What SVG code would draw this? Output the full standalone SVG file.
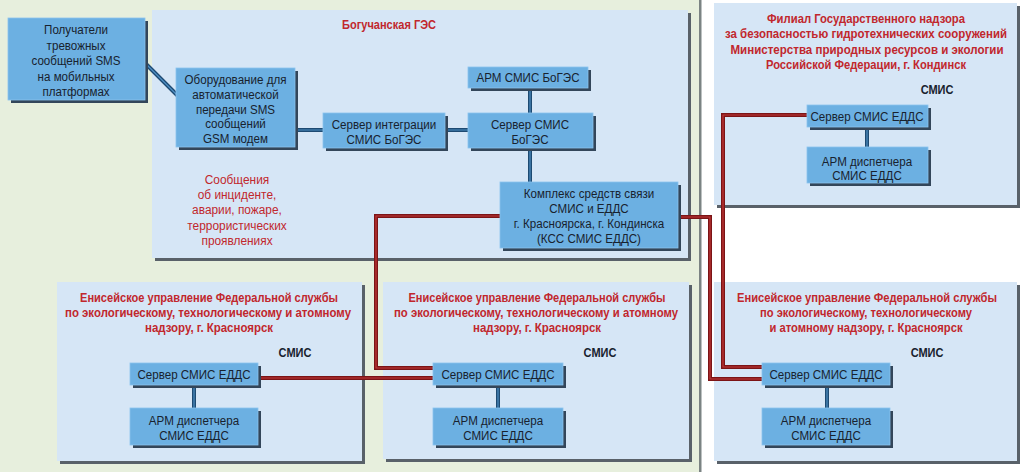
<svg xmlns="http://www.w3.org/2000/svg" width="1024" height="472" viewBox="0 0 1024 472">
<style>
.pshadow{fill:#596169}
.panel{fill:#d6e6f6}
.nshadow{fill:#33465a}
.node{fill:#6cb0e2;stroke:#8cc4ee;stroke-width:0.8}
.t{font-family:"Liberation Sans",Arial,sans-serif;font-size:13.5px;fill:#18222e;text-anchor:middle;transform-box:fill-box;transform-origin:center;transform:scaleX(0.86)}
.h{font-family:"Liberation Sans",Arial,sans-serif;font-size:12px;font-weight:bold;fill:#c1272d;text-anchor:middle}
.r{font-family:"Liberation Sans",Arial,sans-serif;font-size:13.5px;fill:#c1272d;text-anchor:middle;transform-box:fill-box;transform-origin:center;transform:scaleX(0.88)}
.s{font-family:"Liberation Sans",Arial,sans-serif;font-size:12.5px;font-weight:bold;fill:#18222e;text-anchor:middle;transform-box:fill-box;transform-origin:center;transform:scaleX(0.88)}
.bo{fill:none;stroke:#1d4a72;stroke-width:4}
.bi{fill:none;stroke:#4f8fc4;stroke-width:1.2}
.ro{fill:none;stroke:#7c1416;stroke-width:4}
.ri{fill:none;stroke:#c23a3a;stroke-width:1.2}
</style>
<rect x="0" y="0" width="1024" height="472" fill="#ffffff"/>
<rect x="0" y="0" width="700" height="472" fill="#e7efdd"/>
<rect x="699" y="0" width="2.5" height="472" fill="#7b8383"/>

<g id="panel-bogges">
<rect class="pshadow" x="155" y="13" width="536" height="248"/>
<rect class="panel" x="152" y="10" width="536" height="248"/>
<text class="h" x="389" y="29" textLength="94" lengthAdjust="spacingAndGlyphs">Богучанская ГЭС</text>
<text class="r" x="237" y="184.5">Сообщения</text>
<text class="r" x="237" y="199.5">об инциденте,</text>
<text class="r" x="237" y="214.5">аварии, пожаре,</text>
<text class="r" x="237" y="230">террористических</text>
<text class="r" x="237" y="245">проявлениях</text>
</g>
<g id="panel-filial">
<rect class="pshadow" x="717" y="6" width="303" height="202"/>
<rect class="panel" x="714" y="3" width="303" height="202"/>
<text class="h" x="866" y="22.5" textLength="198" lengthAdjust="spacingAndGlyphs">Филиал Государственного надзора</text>
<text class="h" x="866" y="38" textLength="282" lengthAdjust="spacingAndGlyphs">за безопасностью гидротехнических сооружений</text>
<text class="h" x="867" y="53.5" textLength="273" lengthAdjust="spacingAndGlyphs">Министерства природных ресурсов и экологии</text>
<text class="h" x="866" y="69" textLength="200" lengthAdjust="spacingAndGlyphs">Российской Федерации, г. Кондинск</text>
<text class="s" x="937" y="94">СМИС</text>
</g>
<g id="panel-bl">
<rect class="pshadow" x="60" y="285" width="305" height="179"/>
<rect class="panel" x="57" y="282" width="305" height="179"/>
<text class="h" x="209" y="301.5" textLength="258" lengthAdjust="spacingAndGlyphs">Енисейское управление Федеральной службы</text>
<text class="h" x="208" y="316.5" textLength="286" lengthAdjust="spacingAndGlyphs">по экологическому, технологическому и атомному</text>
<text class="h" x="209" y="331.5" textLength="128" lengthAdjust="spacingAndGlyphs">надзору, г. Красноярск</text>
<text class="s" x="295" y="357">СМИС</text>
</g>
<g id="panel-bm">
<rect class="pshadow" x="386" y="285" width="306" height="177"/>
<rect class="panel" x="383" y="282" width="306" height="177"/>
<text class="h" x="537" y="301.5" textLength="257" lengthAdjust="spacingAndGlyphs">Енисейское управление Федеральной службы</text>
<text class="h" x="536" y="316.5" textLength="284" lengthAdjust="spacingAndGlyphs">по экологическому, технологическому и атомному</text>
<text class="h" x="537" y="331.5" textLength="128" lengthAdjust="spacingAndGlyphs">надзору, г. Красноярск</text>
<text class="s" x="600" y="357">СМИС</text>
</g>
<g id="panel-br">
<rect class="pshadow" x="717" y="285" width="303" height="179"/>
<rect class="panel" x="714" y="282" width="303" height="179"/>
<text class="h" x="867" y="301.5" textLength="260" lengthAdjust="spacingAndGlyphs">Енисейское управление Федеральной службы</text>
<text class="h" x="866" y="316.5" textLength="212" lengthAdjust="spacingAndGlyphs">по экологическому, технологическому</text>
<text class="h" x="866" y="331.5" textLength="193" lengthAdjust="spacingAndGlyphs">и атомному надзору, г. Красноярск</text>
<text class="s" x="927" y="357">СМИС</text>
</g>

<g id="connectors">
<path class="bo" d="M145 63 L178 96 M295 130 H323 M445 130 H468 M530 88 V113 M530 148 V182 M867 127 V147 M194 385 V408 M498 385 V408 M827 386 V408"/>
<path class="bi" d="M145 63 L178 96 M295 130 H323 M445 130 H468 M530 88 V113 M530 148 V182 M867 127 V147 M194 385 V408 M498 385 V408 M827 386 V408"/>
<path class="ro" d="M500 216 H376 V368 H433 M258 378 H433 M678 217 H710 V379 H762 M807 115 H723 V367 H762"/>
<path class="ri" d="M500 216 H376 V368 H433 M258 378 H433 M678 217 H710 V379 H762 M807 115 H723 V367 H762"/>
</g>

<g id="n-recipients">
<rect class="nshadow" x="11" y="21" width="137" height="82"/>
<rect class="node" x="8" y="18" width="137" height="82"/>
<text class="t" x="76" y="34.5">Получатели</text>
<text class="t" x="76" y="50">тревожных</text>
<text class="t" x="76" y="65.5">сообщений SMS</text>
<text class="t" x="76" y="81">на мобильных</text>
<text class="t" x="76" y="96">платформах</text>
</g>
<g id="n-gsm">
<rect class="nshadow" x="179" y="71" width="119" height="79"/>
<rect class="node" x="176" y="68" width="119" height="79"/>
<text class="t" x="235.5" y="84.5">Оборудование для</text>
<text class="t" x="235.5" y="99.5">автоматической</text>
<text class="t" x="235.5" y="114.5">передачи SMS</text>
<text class="t" x="235.5" y="128.5">сообщений</text>
<text class="t" x="235.5" y="143">GSM модем</text>
</g>
<g id="n-integr">
<rect class="nshadow" x="326" y="116" width="122" height="35"/>
<rect class="node" x="323" y="113" width="122" height="35"/>
<text class="t" x="384" y="129">Сервер интеграции</text>
<text class="t" x="384" y="144">СМИС БоГЭС</text>
</g>
<g id="n-arm-bog">
<rect class="nshadow" x="471" y="70" width="120" height="21"/>
<rect class="node" x="468" y="67" width="120" height="21"/>
<text class="t" x="528" y="82.5">АРМ СМИС БоГЭС</text>
</g>
<g id="n-srv-bog">
<rect class="nshadow" x="471" y="116" width="125" height="35"/>
<rect class="node" x="468" y="113" width="125" height="35"/>
<text class="t" x="530" y="129">Сервер СМИС</text>
<text class="t" x="530" y="144">БоГЭС</text>
</g>
<g id="n-kss">
<rect class="nshadow" x="503" y="185" width="178" height="66"/>
<rect class="node" x="500" y="182" width="178" height="66"/>
<text class="t" x="589" y="198">Комплекс средств связи</text>
<text class="t" x="589" y="213">СМИС и ЕДДС</text>
<text class="t" x="589" y="228">г. Красноярска, г. Кондинска</text>
<text class="t" x="589" y="243">(КСС СМИС ЕДДС)</text>
</g>
<g id="n-srv-tr">
<rect class="nshadow" x="810" y="108" width="121" height="22"/>
<rect class="node" x="807" y="105" width="121" height="22"/>
<text class="t" x="867" y="121">Сервер СМИС ЕДДС</text>
</g>
<g id="n-arm-tr">
<rect class="nshadow" x="810" y="150" width="121" height="36"/>
<rect class="node" x="807" y="147" width="121" height="36"/>
<text class="t" x="867" y="166">АРМ диспетчера</text>
<text class="t" x="867" y="180">СМИС ЕДДС</text>
</g>
<g id="n-srv-bl">
<rect class="nshadow" x="133" y="366" width="128" height="22"/>
<rect class="node" x="130" y="363" width="128" height="22"/>
<text class="t" x="194" y="379">Сервер СМИС ЕДДС</text>
</g>
<g id="n-arm-bl">
<rect class="nshadow" x="133" y="411" width="128" height="37"/>
<rect class="node" x="130" y="408" width="128" height="37"/>
<text class="t" x="194" y="425">АРМ диспетчера</text>
<text class="t" x="194" y="440">СМИС ЕДДС</text>
</g>
<g id="n-srv-bm">
<rect class="nshadow" x="436" y="366" width="130" height="22"/>
<rect class="node" x="433" y="363" width="130" height="22"/>
<text class="t" x="498" y="379">Сервер СМИС ЕДДС</text>
</g>
<g id="n-arm-bm">
<rect class="nshadow" x="436" y="411" width="130" height="37"/>
<rect class="node" x="433" y="408" width="130" height="37"/>
<text class="t" x="498" y="425">АРМ диспетчера</text>
<text class="t" x="498" y="440">СМИС ЕДДС</text>
</g>
<g id="n-srv-br">
<rect class="nshadow" x="765" y="366" width="128" height="22"/>
<rect class="node" x="762" y="363" width="128" height="22"/>
<text class="t" x="826" y="379">Сервер СМИС ЕДДС</text>
</g>
<g id="n-arm-br">
<rect class="nshadow" x="765" y="411" width="128" height="37"/>
<rect class="node" x="762" y="408" width="128" height="37"/>
<text class="t" x="826" y="425">АРМ диспетчера</text>
<text class="t" x="826" y="440">СМИС ЕДДС</text>
</g>
</svg>
